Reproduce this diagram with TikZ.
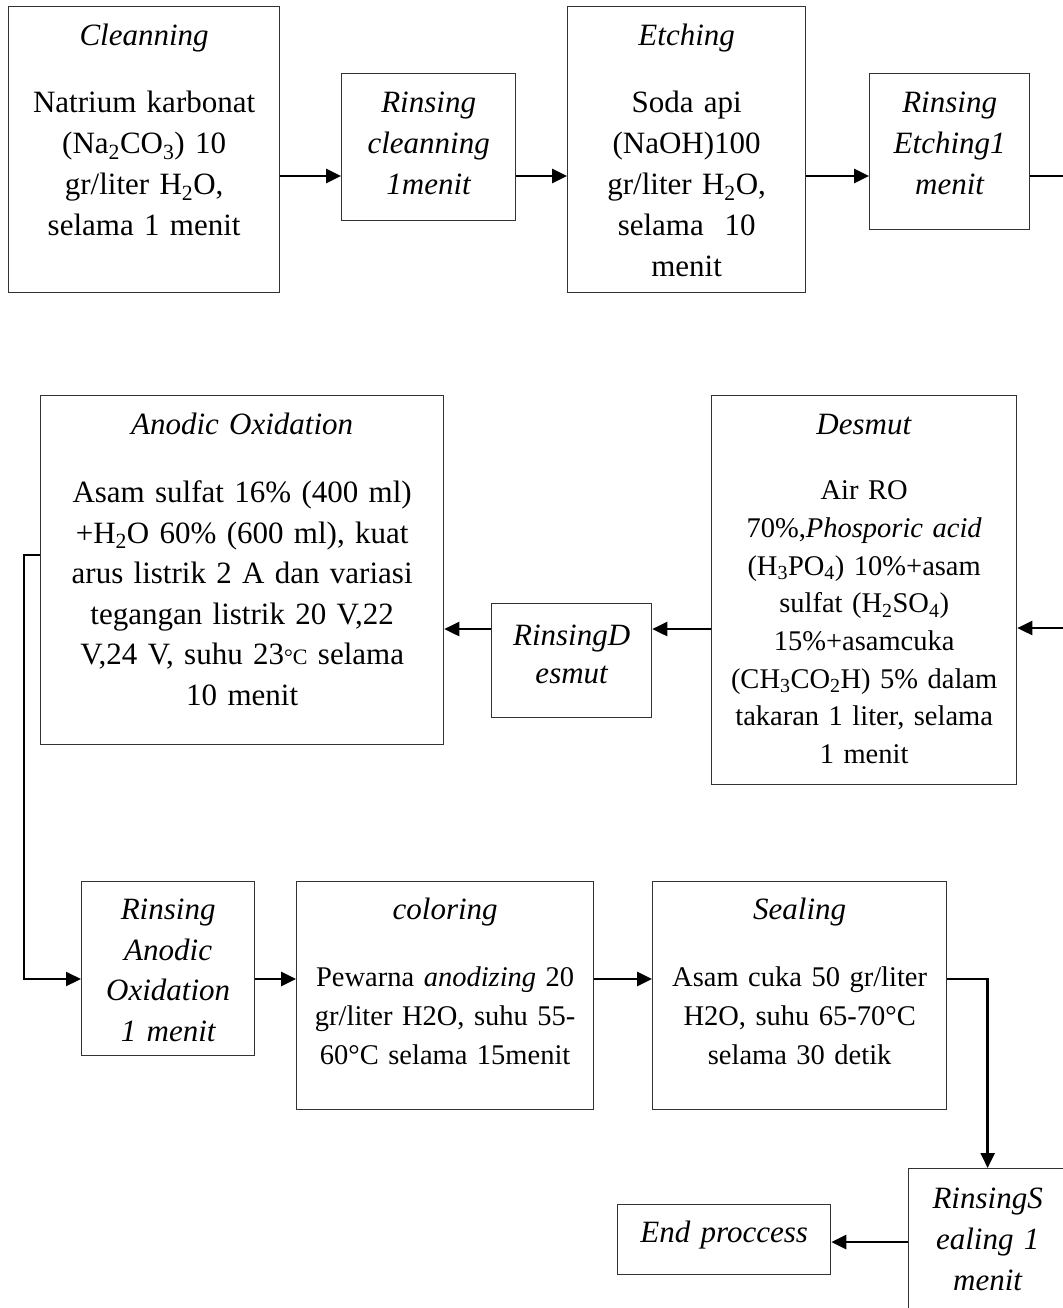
\documentclass[tikz,border=0pt]{standalone}
\usepackage{fontspec}
\setmainfont{Liberation Serif}
\usetikzlibrary{arrows.meta}

\begin{document}
\begin{tikzpicture}[x=1pt, y=-1pt,
			stepbox/.style={draw=black!80, line width=1.3pt, inner sep=0pt, anchor=north west, align=center, font=\fontsize{31}{40.5}\selectfont},
			flow/.style={line width=2.7pt, -{Triangle[length=15pt,width=14pt]}},
			wire/.style={line width=2.7pt},
			]
			\useasboundingbox (0,0) rectangle (1062,1308);
			%Rows
			\coordinate (row1) at (0,176);
			\coordinate (row2) at (0,629);
			\coordinate (row3) at (0,979);
			\coordinate (row4) at (0,1242);
			\coordinate (outtop) at (1075,176);
			\coordinate (indesmut) at (1075,628);
			\coordinate (turnA) at (24,555);

			%Nodes
			\node[stepbox, text width=271pt, text height=39pt, text depth=247pt, font=\fontsize{31}{41}\selectfont] (clean) at (8,6)
				{\textit{Cleanning}\\[26pt] Natrium karbonat\\ (Na\textsubscript{2}CO\textsubscript{3}) 10\\ gr/liter H\textsubscript{2}O,\\ selama 1 menit};
			\node[stepbox, text width=174pt, text height=39pt, text depth=108pt, font=\fontsize{31}{41}\selectfont\itshape] (rclean) at (341,73)
				{Rinsing\\ cleanning\\ 1menit};
			\node[stepbox, text width=238pt, text height=39pt, text depth=247pt, font=\fontsize{31}{41}\selectfont] (etch) at (567,6)
				{\textit{Etching}\\[26pt] Soda api\\ (NaOH)100\\ gr/liter H\textsubscript{2}O,\\ selama\ \ 10\\ menit};
			\node[stepbox, text width=160pt, text height=39pt, text depth=117pt, font=\fontsize{31}{41}\selectfont\itshape] (retch) at (869,73)
				{Rinsing\\ Etching1\\ menit};

			\node[stepbox, text width=403pt, text height=39pt, text depth=310pt] (anodic) at (40,395)
				{\textit{Anodic Oxidation}\\[27.5pt] Asam sulfat 16\% (400 ml)\\ +H\textsubscript{2}O 60\% (600 ml), kuat\\ arus listrik 2 A dan variasi\\ tegangan listrik 20 V,22\\ V,24 V, suhu 23{\fontsize{22}{22}\selectfont °C} selama\\ 10 menit};
			\node[stepbox, text width=160pt, text height=42pt, text depth=72pt, font=\fontsize{31}{38}\selectfont\itshape] (rdesmut) at (491,603)
				{RinsingD\\ esmut};
			\node[stepbox, text width=305pt, text height=39pt, text depth=350pt, font=\fontsize{28.5}{37.7}\selectfont] (desmut) at (711,395)
				{{\fontsize{31}{37.7}\selectfont\textit{Desmut}}\\[27.3pt] Air RO\\ 70\%,\textit{Phosporic acid}\\ (H\textsubscript{3}PO\textsubscript{4}) 10\%+asam\\ sulfat (H\textsubscript{2}SO\textsubscript{4})\\ 15\%+asamcuka\\ (CH\textsubscript{3}CO\textsubscript{2}H) 5\% dalam\\ takaran 1 liter, selama\\ 1 menit};

			\node[stepbox, text width=173pt, text height=38pt, text depth=136pt, font=\fontsize{31}{40.5}\selectfont\itshape] (ranodic) at (81,881)
				{Rinsing\\ Anodic\\ Oxidation\\ 1 menit};
			\node[stepbox, text width=297pt, text height=38pt, text depth=190pt, font=\fontsize{28.5}{39}\selectfont] (coloring) at (296,881)
				{{\fontsize{31}{39}\selectfont\textit{coloring}}\\[28pt] Pewarna \textit{anodizing} 20\\ gr/liter H2O, suhu 55-\\ 60°C selama 15menit};
			\node[stepbox, text width=294pt, text height=38pt, text depth=190pt, font=\fontsize{28.5}{39}\selectfont] (sealing) at (652,881)
				{{\fontsize{31}{39}\selectfont\textit{Sealing}}\\[28pt] Asam cuka 50 gr/liter\\ H2O, suhu 65-70°C\\ selama 30 detik};

			\node[stepbox, text width=158pt, text height=40pt, text depth=250pt, font=\fontsize{31}{41}\selectfont\itshape] (rseal) at (908,1168)
				{RinsingS\\ ealing 1\\ menit};
			\node[stepbox, text width=213pt, text height=38pt, text depth=32pt, font=\fontsize{31}{41}\selectfont\itshape] (endp) at (617,1204)
				{End proccess};

			%Arrows
			\draw[flow] (clean.east |- row1) -- (rclean.west |- row1);
			\draw[flow] (rclean.east |- row1) -- (etch.west |- row1);
			\draw[flow] (etch.east |- row1) -- (retch.west |- row1);
			\draw[wire] (retch.east |- row1) -- (outtop);
			\draw[flow] (indesmut) -- (desmut.east |- indesmut);
			\draw[flow] (desmut.west |- row2) -- (rdesmut.east |- row2);
			\draw[flow] (rdesmut.west |- row2) -- (anodic.east |- row2);
			\draw[flow, line width=2.2pt] (anodic.west |- turnA) -- (turnA) |- (ranodic.west |- row3);
			\draw[flow] (ranodic.east |- row3) -- (coloring.west |- row3);
			\draw[flow] (coloring.east |- row3) -- (sealing.west |- row3);
			\draw[flow] (sealing.east |- row3) -| (rseal.north);
			\draw[flow] (rseal.west |- row4) -- (endp.east |- row4);
		\end{tikzpicture}
\end{document}
